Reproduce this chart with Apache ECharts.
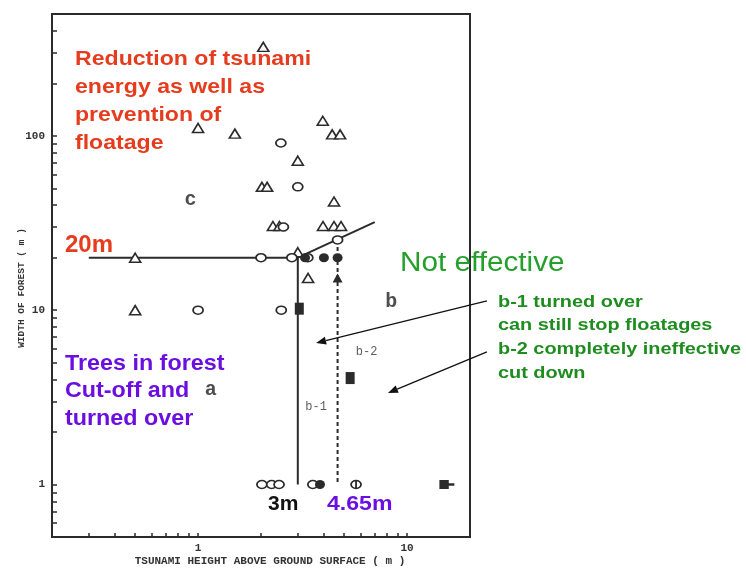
<!DOCTYPE html>
<html>
<head>
<meta charset="utf-8">
<script src="https://cdn.jsdelivr.net/npm/echarts@6/dist/echarts.min.js"></script>
<style>
  html, body { margin: 0; padding: 0; background: #fff; }
  #chart { width: 746px; height: 568px; }
</style>
</head>
<body>
<div id="chart"></div>
<script>
// Tsunami height vs. forest width, field observations (log-log)
// [tsunami height (m), forest width (m)]
const openTriangles = [
  [2.05, 324], [1.0, 111], [1.5, 103], [3.95, 122], [4.38, 102], [4.78, 102],
  [3.0, 72], [2.02, 51], [2.14, 51], [4.47, 42],
  [2.28, 30.4], [2.45, 30.4], [3.96, 30.4], [4.47, 30.4], [4.83, 30.4],
  [3.0, 21.5], [3.36, 15.3], [0.5, 20], [0.5, 10]
];
const openCircles = [
  [2.49, 91], [3.0, 51], [2.56, 30], [2.0, 20], [2.81, 20], [3.35, 20],
  [4.65, 25.3], [1.0, 10], [2.5, 10],
  [2.02, 1], [2.25, 1], [2.44, 1], [3.54, 1]
];
const barredCircles = [[5.7, 1]];
const filledCircles = [[3.25, 20], [4.0, 20], [4.65, 20], [3.83, 1]];
const filledTriangles = [[4.65, 15.3]];
const filledSquares = [[3.05, 10.2], [5.34, 4.08]];
const offScaleSquares = [[15, 1]];

// boundary lines between zones a / b-1 / b-2 / c
const boundary = [[0.3, 20], [3, 20], [7, 32]];
const limitB1 = [[3, 20], [3, 1]];
const limitB2 = [[4.65, 25.3], [4.65, 1]];

// zone letters: [x, y, text]
const zoneLetters = [[0.92, 43, 'c'], [1.15, 3.5, 'a'], [8.4, 11.1, 'b']];
const zoneSubLabels = [[6.4, 5.8, 'b-2'], [3.67, 2.78, 'b-1']];

// pointers from the notes to the b-1 / b-2 zones: [from, to] in data units
const arrows = [
  [[24.1, 11.3], [3.67, 6.48]],
  [[24.1, 5.76], [8.1, 3.35]]
];

const xTicks = [0.3, 0.4, 0.5, 0.6, 0.7, 0.8, 0.9, 1, 2, 3, 4, 5, 6, 7, 8, 9, 10];
const xTickLabels = [1, 10];
const yTicks = [0.6, 0.7, 0.8, 0.9, 1, 2, 3, 4, 5, 6, 7, 8, 9, 10,
  20, 30, 40, 50, 60, 70, 80, 90, 100, 200, 300, 400];
const yTickLabels = [1, 10, 100];

const redNote = ['Reduction of tsunami', 'energy as well as', 'prevention of', 'floatage'];
const purpleNote = ['Trees in forest', 'Cut-off and', 'turned over'];
const greenNote = ['b-1 turned over', 'can still stop floatages', 'b-2 completely ineffective', 'cut down'];

const INK = '#2b2b2b';
const MONO = '"Liberation Mono", "DejaVu Sans Mono", monospace';
const SANS = '"Liberation Sans", Arial, sans-serif';

const chart = echarts.init(document.getElementById('chart'), null, { renderer: 'canvas' });

function scatter(name, data, symbol, size, filled, z) {
  return {
    name, type: 'scatter', data, symbol, symbolSize: size, z: z || 5,
    itemStyle: {
      color: filled ? INK : '#fff',
      borderColor: INK,
      borderWidth: filled ? 0 : 1.6,
      opacity: 1
    },
    emphasis: { disabled: true },
    silent: true
  };
}

function lineSeries(name, data, dashed) {
  return {
    name, type: 'line', data, symbol: 'none', z: 3,
    lineStyle: { color: INK, width: 2, type: dashed ? [4, 3] : 'solid' },
    emphasis: { disabled: true }, silent: true, clip: false
  };
}

const option = {
  animation: false,
  backgroundColor: '#fff',
  grid: {
    left: 52, right: 276, top: 14, bottom: 31,
    show: true, borderColor: INK, borderWidth: 2, backgroundColor: 'transparent'
  },
  xAxis: {
    type: 'log', logBase: 10, min: 0.2, max: 20,
    axisLine: { show: true, lineStyle: { color: INK, width: 2 } },
    axisTick: { show: true, inside: true, length: 4, customValues: xTicks,
      lineStyle: { color: INK, width: 1.5 } },
    axisLabel: { show: true, customValues: xTickLabels, margin: 6,
      color: '#333', fontFamily: MONO, fontSize: 11, fontWeight: 'bold' },
    splitLine: { show: false }, minorTick: { show: false }
  },
  yAxis: {
    type: 'log', logBase: 10, min: 0.5, max: 500,
    axisLine: { show: true, lineStyle: { color: INK, width: 2 } },
    axisTick: { show: true, inside: true, length: 5, customValues: yTicks,
      lineStyle: { color: INK, width: 1.5 } },
    axisLabel: { show: true, customValues: yTickLabels, margin: 7,
      color: '#333', fontFamily: MONO, fontSize: 11, fontWeight: 'bold' },
    splitLine: { show: false }, minorTick: { show: false }
  },
  series: [
    lineSeries('boundary', boundary, false),
    lineSeries('limit b-1', limitB1, false),
    lineSeries('limit b-2', limitB2, true),
    scatter('open triangles', openTriangles, 'triangle', [11, 9], false),
    scatter('open circles', openCircles, 'circle', [10, 8], false),
    scatter('barred circles', barredCircles,
      'path://M10,0A10,8,0,1,1,10,16A10,8,0,1,1,10,0ZM10,0V16', [10, 8], false),
    scatter('filled circles', filledCircles, 'circle', [10, 9], true, 6),
    scatter('filled triangles', filledTriangles, 'triangle', [10, 9], true, 6),
    scatter('filled squares', filledSquares, 'rect', [9, 12], true, 6),
    Object.assign(scatter('off-scale squares', offScaleSquares,
      'path://M0,0H10V10H0ZM10,3.5H16V6.5H10Z', [15, 9], true, 6), { symbolOffset: [3, 0] }),
    {
      name: 'zone letters', type: 'scatter', data: zoneLetters, symbolSize: 0, z: 4,
      silent: true,
      label: { show: true, position: 'inside', formatter: p => p.data[2],
        color: '#222', fontFamily: MONO, fontSize: 20, fontWeight: 'bold' }
    },
    {
      name: 'zone sub-labels', type: 'scatter', data: zoneSubLabels, symbolSize: 0, z: 4,
      silent: true,
      label: { show: true, position: 'inside', formatter: p => p.data[2],
        color: '#333', fontFamily: MONO, fontSize: 12 }
    }
  ],
  graphic: [
    { id: 'note-red', type: 'text', x: 75, y: 45, scaleX: 1.1, silent: true,
      style: { text: redNote.join('\n'), fill: '#e63c1e',
        font: 'bold 21px ' + SANS, lineHeight: 28, verticalAlign: 'top' } },
    { id: 'note-20m', type: 'text', x: 65, y: 233, silent: true,
      style: { text: '20m', fill: '#e63c1e', font: 'bold 24px ' + SANS, verticalAlign: 'top' } },
    { id: 'note-purple', type: 'text', x: 65, y: 350, scaleX: 1.06, silent: true,
      style: { text: purpleNote.join('\n'), fill: '#6a0fe0',
        font: 'bold 22px ' + SANS, lineHeight: 27.5, verticalAlign: 'top' } },
    { id: 'note-3m', type: 'text', x: 268, y: 494, silent: true,
      style: { text: '3m', fill: '#111', font: 'bold 21px ' + SANS, verticalAlign: 'top' } },
    { id: 'note-465m', type: 'text', x: 327, y: 494, scaleX: 1.1, silent: true,
      style: { text: '4.65m', fill: '#6a0fe0', font: 'bold 21px ' + SANS, verticalAlign: 'top' } },
    { id: 'note-noteff', type: 'text', x: 400, y: 250, scaleX: 1.1, silent: true,
      style: { text: 'Not effective', fill: '#22a02a', font: '27px ' + SANS, verticalAlign: 'top' } },
    { id: 'note-green', type: 'text', x: 498, y: 290, scaleX: 1.17, silent: true,
      style: { text: greenNote.join('\n'), fill: '#1e8c1e',
        font: 'bold 17px ' + SANS, lineHeight: 23.7, verticalAlign: 'top' } },
    { id: 'x-name', type: 'text', x: 270, y: 561, silent: true,
      style: { text: 'TSUNAMI HEIGHT ABOVE GROUND SURFACE ( m )', fill: '#333',
        font: 'bold 11px ' + MONO, align: 'center', verticalAlign: 'middle' } },
    { id: 'y-name', type: 'text', x: 22, y: 288, rotation: Math.PI / 2, silent: true,
      style: { text: 'WIDTH OF FOREST ( m )', fill: '#333',
        font: 'bold 9.5px ' + MONO, align: 'center', verticalAlign: 'middle' } }
  ]
};

chart.setOption(option);

// pointer arrows, placed through the axes' own scales
const arrowGraphics = [];
arrows.forEach(([from, to], i) => {
  const p0 = chart.convertToPixel({ gridIndex: 0 }, from);
  const p1 = chart.convertToPixel({ gridIndex: 0 }, to);
  const dx = p1[0] - p0[0], dy = p1[1] - p0[1];
  const len = Math.hypot(dx, dy);
  const ux = dx / len, uy = dy / len;
  const head = 10, half = 4;
  const bx = p1[0] - ux * head, by = p1[1] - uy * head;
  arrowGraphics.push({
    id: 'arrow-line-' + i, type: 'line', silent: true, z: 10,
    shape: { x1: p0[0], y1: p0[1], x2: bx, y2: by },
    style: { stroke: '#111', lineWidth: 1.3 }
  });
  arrowGraphics.push({
    id: 'arrow-head-' + i, type: 'polygon', silent: true, z: 10,
    shape: { points: [p1, [bx - uy * half, by + ux * half], [bx + uy * half, by - ux * half]] },
    style: { fill: '#111' }
  });
});
chart.setOption({ graphic: arrowGraphics });
</script>
</body>
</html>
